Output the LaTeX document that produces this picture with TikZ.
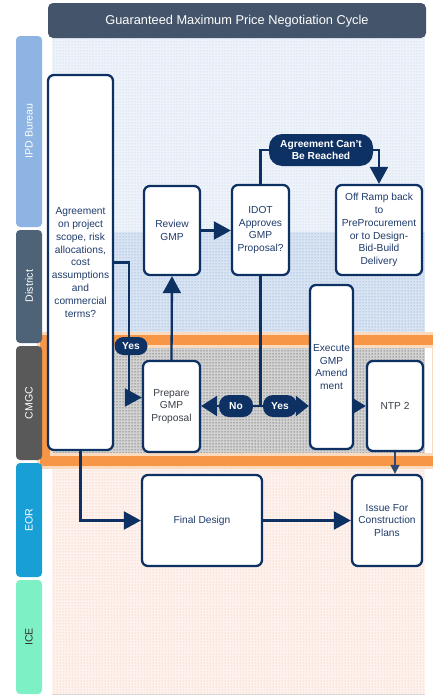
\documentclass[tikz,border=0pt]{standalone}
\usepackage{fontspec}
\setmainfont{Liberation Sans}
\usetikzlibrary{arrows.meta,patterns,calc}
\definecolor{navy}{HTML}{0E3163}
\definecolor{txt}{HTML}{1F3B6B}
\definecolor{dtxt}{HTML}{3A3F48}
\definecolor{titlec}{HTML}{44546A}
\definecolor{ipdc}{HTML}{8DB4E2}
\definecolor{distc}{HTML}{4E6378}
\definecolor{cmgcc}{HTML}{595959}
\definecolor{eorc}{HTML}{18A0D6}
\definecolor{icec}{HTML}{7EF0C6}
\definecolor{orangec}{HTML}{F79646}
\definecolor{dotblue}{HTML}{B8CCE8}
\definecolor{dotblue2}{HTML}{6F96D0}
\definecolor{dotred}{HTML}{F6B7A4}
\definecolor{bgblue}{HTML}{EEF3FA}
\definecolor{bgblue2}{HTML}{D9E4F3}
\definecolor{bgred}{HTML}{FDF2EE}
\begin{document}
\begin{tikzpicture}[x=1pt,y=-1pt,
  font=\fontsize{10.2}{12.8}\selectfont,
  box/.style={draw=navy, line width=2.3pt, rounded corners=6pt, fill=white, align=center, text=txt, inner sep=1pt},
  pill/.style={fill=navy, rounded corners=9pt, text=white, font=\fontsize{10.2}{12.5}\selectfont\bfseries, align=center, inner sep=1pt},
  conn/.style={draw=navy, line width=2.3pt},
  arr/.style={conn, -{Triangle[length=17pt,width=18pt]}},
  lanebox/.style={rounded corners=4pt},
  lanetext/.style={rotate=90, text=white, font=\fontsize{10.6}{12}\selectfont},
]
\useasboundingbox (0,0) rectangle (433,696);
% backgrounds
\fill[white] (52,38) rectangle (425,694);
\fill[bgblue] (52,38) rectangle (425,232);
\fill[pattern=dots, pattern color=dotblue] (52,38) rectangle (425,232);
\fill[bgblue2] (52,232) rectangle (425,338);
\fill[pattern=dots, pattern color=dotblue2] (52,232) rectangle (425,338);
\fill[gray!35] (52,338) rectangle (425,462);
\fill[pattern=dots, pattern color=black!85] (52,338) rectangle (425,462);
\fill[bgred] (52,466) rectangle (425,694);
\fill[pattern=dots, pattern color=dotred] (52,466) rectangle (425,694);
\draw[gray!30, line width=0.6pt] (52,694.5) -- (425,694.5);
% orange highlight
\draw[orangec!35, line width=16pt] (45,340) rectangle (440,461);
\draw[orangec, line width=10pt] (45,340) rectangle (440,461);
% title bar
\fill[titlec, rounded corners=5pt] (48,38) -- (48,3) -- (426,3) -- (426,38) -- cycle;
\node[text=white, font=\fontsize{12.8}{14}\selectfont] (title) at (237,21) {Guaranteed Maximum Price Negotiation Cycle};
% lanes
\fill[ipdc, lanebox] (16,36) rectangle (42,227);
\fill[distc, lanebox] (16,230) rectangle (42,343);
\fill[cmgcc, lanebox] (16,346) rectangle (42,460);
\fill[eorc, lanebox] (16,463) rectangle (42,577);
\fill[icec, lanebox] (16,580) rectangle (42,694);
\node[lanetext] (l1) at (29,131) {IPD Bureau};
\node[lanetext] (l2) at (29,286) {District};
\node[lanetext] (l3) at (29,403) {CMGC};
\node[lanetext] (l4) at (29,520) {EOR};
\node[lanetext, text=black!80] (l5) at (29,637) {ICE};
% nodes
\node[box, minimum width=65pt, minimum height=375pt] (agree) at (80.5,262.5) {Agreement\\on project\\scope, risk\\allocations,\\cost\\assumptions\\and\\commercial\\terms?};
\node[box, minimum width=56pt, minimum height=89pt] (review) at (172,230.5) {Review\\GMP};
\node[box, minimum width=57pt, minimum height=90pt] (idot) at (260.5,230) {IDOT\\Approves\\GMP\\Proposal?};
\node[box, minimum width=86pt, minimum height=90pt] (off) at (379,230) {Off Ramp back\\to\\PreProcurement\\or to Design-\\Bid-Build\\Delivery};
\node[box, minimum width=43pt, minimum height=164pt] (exec) at (331.5,367) {Execute\\GMP\\Amend\\ment};
\node[box, minimum width=56pt, minimum height=90pt, text=dtxt] (ntp) at (395,406) {NTP 2};
\node[box, minimum width=57pt, minimum height=91pt, text=dtxt] (prep) at (171.5,406.5) {Prepare\\GMP\\Proposal};
\node[box, minimum width=120pt, minimum height=91pt] (final) at (202,520.5) {Final Design};
\node[box, minimum width=70pt, minimum height=91pt] (ifc) at (387,520.5) {Issue For\\Construction\\Plans};
\node[pill, rounded corners=13pt, minimum width=104pt, minimum height=32pt] (cant) at (321,150) {Agreement Can't\\Be Reached};
% connectors
\coordinate (j) at (260.5,406);
\draw[arr] (agree.east) -- (129,262.5) |- ($(prep.west)+(0,-9)$);
\draw[arr] (prep.north) -- (review.south);
\draw[arr] (review.east) -- (review.east -| idot.west);
\draw[conn] (idot.north) |- (cant.west);
\draw[arr] (cant.east) -| (off.north);
\draw[conn] (idot.south) -- (j);
\draw[conn, -{Triangle[length=16pt,width=20pt]}] (j) -- (prep.east |- j);
\draw[conn, -{Triangle[length=13pt,width=20pt]}] (j) -- (exec.west |- j);
\draw[conn, -{Triangle[length=13pt,width=15pt]}] (exec.east |- ntp.west) -- (ntp.west);
\draw[conn, draw=navy!70!gray, line width=1.5pt, -{Triangle[length=9pt,width=9pt]}] (ntp.south) -- (ntp.south |- ifc.north);
\draw[arr] (agree.south) |- (final.west);
\draw[arr] (final.east) -- (ifc.west);
% labels on connectors
\node[pill, minimum width=33pt, minimum height=18pt] (yes1) at (131,346) {Yes};
\node[pill, minimum width=34pt, minimum height=22pt, rounded corners=10pt] (no) at (236,406) {No};
\node[pill, minimum width=34pt, minimum height=22pt, rounded corners=10pt] (yes2) at (280,406) {Yes};
\end{tikzpicture}
\end{document}
